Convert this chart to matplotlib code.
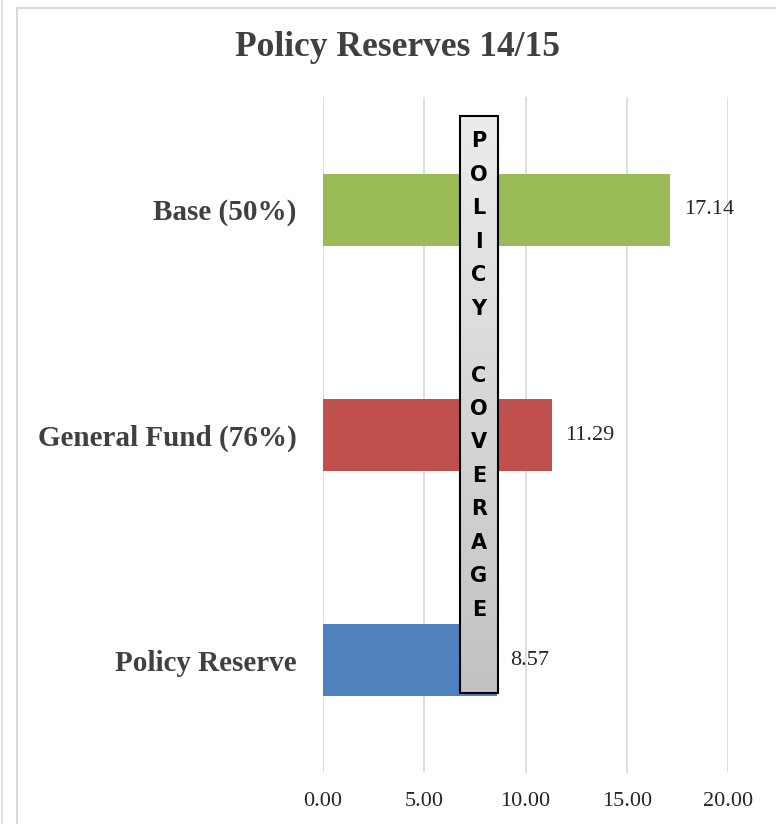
import matplotlib.pyplot as plt
import numpy as np
from matplotlib.patches import Rectangle
from matplotlib.colors import LinearSegmentedColormap

categories = ['Policy Reserve', 'General Fund (76%)', 'Base (50%)']
values = [8.57, 11.29, 17.14]
colors = ['#4F81BD', '#C0504D', '#9BBB59']
xticks = [0, 5, 10, 15, 20]

fig = plt.figure(figsize=(7.76, 8.24), dpi=100, facecolor='white')

# outer chart frame
fig.patches.append(Rectangle((17 / 776, -0.01), 1.0, 1 - 8 / 824 + 0.01, transform=fig.transFigure,
                             fill=False, edgecolor='#d9d9d9', linewidth=1.5))
fig.patches.append(Rectangle((2 / 776, -0.01), 0.0, 1.02, transform=fig.transFigure,
                             fill=False, edgecolor='#e0e0e0', linewidth=1.2))

ax = fig.add_axes([323 / 776, 1 - 773 / 824, 405 / 776, 676 / 824])
y = np.arange(len(categories))
ax.barh(y, values, height=0.32, color=colors, zorder=2)

for yi, v in zip(y, values):
    ax.annotate(f'{v:.2f}', (v, yi), xytext=(10, 0), textcoords='offset points',
                va='center', ha='left', fontsize=16, family='Liberation Serif', color='#262626')

ax.set_xlim(0, 20)
ax.set_ylim(-0.5, 2.5)
ax.set_xticks(xticks)
ax.set_xticklabels([f'{t:.2f}' for t in xticks], family='Liberation Serif', fontsize=16, color='#262626')
ax.set_yticks(y)
ax.set_yticklabels(categories, family='Liberation Serif', fontweight='bold', fontsize=21, color='#404040')
ax.tick_params(axis='x', length=0, pad=14)
ax.tick_params(axis='y', length=0, pad=19)
ax.grid(axis='x', color='#d9d9d9', linewidth=1.2, zorder=0)
for s in ax.spines.values():
    s.set_visible(False)

fig.text(398 / 776, 1 - 48 / 824, 'Policy Reserves 14/15', ha='center', va='center',
         family='Liberation Serif', fontweight='bold', fontsize=25.5, color='#404040')

# "POLICY COVERAGE" box with vertical gradient
bx0, bx1 = 0.338, 0.432
by0, by1 = 0.119, 0.972
grad = np.linspace(0, 1, 256).reshape(-1, 1)
ax.imshow(grad, cmap=LinearSegmentedColormap.from_list('g', ['#c2c2c2', '#ececec']),
          extent=[bx0, bx1, by0, by1], transform=ax.transAxes, aspect='auto', zorder=4, origin='lower')
ax.add_patch(Rectangle((bx0, by0), bx1 - bx0, by1 - by0, transform=ax.transAxes,
                       fill=False, edgecolor='black', linewidth=1.5, zorder=5, clip_on=False))
ax.text((bx0 + bx1) / 2, 0.588, '\n'.join('POLICY COVERAGE'), transform=ax.transAxes,
        ha='center', va='center', fontsize=15, fontweight='bold', family='DejaVu Sans',
        linespacing=1.84, color='black', zorder=6)
ax.set_xlim(0, 20)
ax.set_ylim(-0.5, 2.5)

fig.savefig('out.png', dpi=100, facecolor='white')
